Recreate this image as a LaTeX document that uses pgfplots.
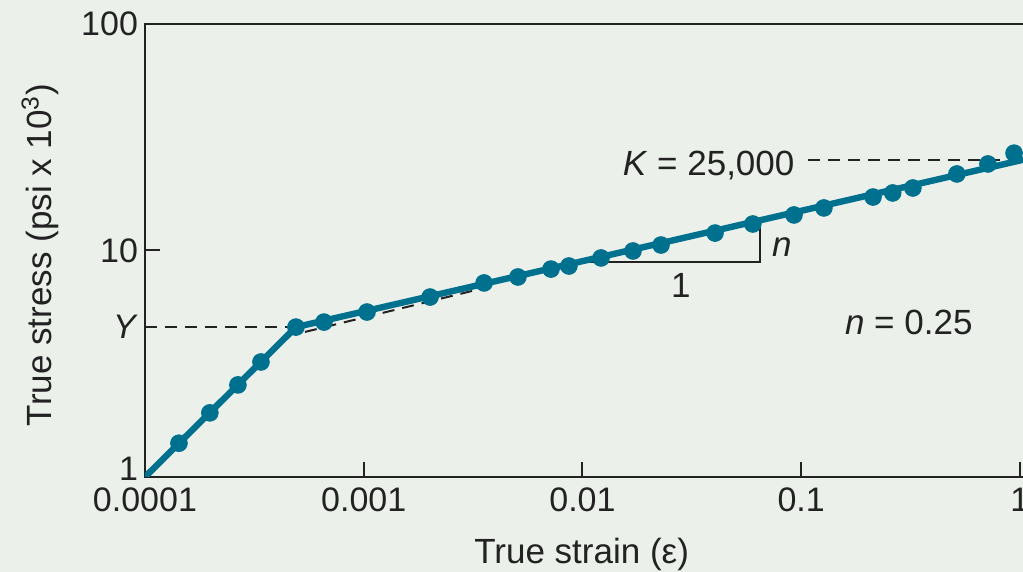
\documentclass[border=0pt]{standalone}
\usepackage{pgfplots}
\pgfplotsset{compat=1.18}
\usepackage{fontspec}
\setmainfont{Liberation Sans}
\definecolor{bg}{HTML}{EBF0EA}
\definecolor{curve}{HTML}{00708F}
\definecolor{ink}{HTML}{222222}
\begin{document}
\begin{tikzpicture}[x=1pt,y=1pt]
\fill[bg] (-72.5,-47.5) rectangle (439,238.5);
\begin{axis}[
  at={(0,0)}, anchor=south west,
  xmode=log, ymode=log,
  scale only axis, width=442pt, height=226.5pt,
  xmin=1e-4, xmax=1.1, ymin=1, ymax=100,
  xtick={1e-4,1e-3,1e-2,1e-1,1},
  xticklabels={0.0001,0.001,0.01,0.1,1},
  ytick={1,10,100}, yticklabels={\raisebox{-2pt}[0pt][0pt]{1},10,100},
  extra y ticks={4.59}, extra y tick labels={\textit{Y}},
  extra y tick style={major tick length=0pt},
  xminorticks=false, yminorticks=false,
  tick align=inside, tick pos=left,
  major tick length=7.5pt,
  axis line style={draw=ink, line width=1pt},
  tick style={draw=ink, line width=1pt},
  tick label style={font=\fontsize{17}{20}\selectfont, text=ink},
  xticklabel style={yshift=-2pt},
  label style={font=\fontsize{17.5}{21}\selectfont, text=ink},
  xlabel={True strain (ε)},
  ylabel={True stress (psi x 10\textsuperscript{3})},
  xlabel style={at={(axis description cs:0.494,-0.19)}, anchor=base},
  ylabel style={at={(axis description cs:-0.1188,0.49)}, anchor=center},
  /pgf/number format/assume math mode=true,
]
% dashed guide lines
\addplot[ink, line width=1pt, dash pattern=on 6pt off 4pt] coordinates {(1e-4,4.59) (4.9e-4,4.59)};
\addplot[ink, line width=1pt, dash pattern=on 6pt off 4pt] coordinates {(5.39e-4,4.37) (3.4e-3,6.76)};
\addplot[ink, line width=1pt, dash pattern=on 6pt off 4pt] coordinates {(0.107,25) (1.1,25)};
% slope triangle
\addplot[ink, line width=0.8pt] coordinates {(0.0105,8.9) (0.0647,8.9) (0.0647,13.6)};
% fitted curve
\addplot[curve, line width=3.2pt] coordinates {(1e-4,1) (4.9e-4,4.59) (1.1,25.5)};
% data points
\addplot[only marks, mark=*, mark size=4.2pt, mark options={draw=curve, fill=curve}] coordinates {
(1.43e-4,1.41) (1.98e-4,1.92) (2.66e-4,2.55) (3.39e-4,3.22) (4.90e-4,4.59)
(6.58e-4,4.83) (1.035e-3,5.35) (2.01e-3,6.23) (3.55e-3,7.19) (5.07e-3,7.64)
(7.18e-3,8.28) (8.67e-3,8.54) (0.01216,9.27) (0.01702,9.95) (0.02286,10.57)
(0.04037,11.94) (0.0601,13.09) (0.0927,14.35) (0.127,15.41) (0.213,17.22)
(0.262,17.95) (0.324,18.88) (0.515,21.77) (0.714,24.1) (0.940,26.9)
};
\node[anchor=base east, inner sep=0pt, font=\fontsize{17.5}{21}\selectfont, text=ink] at (axis cs:0.0935,21.5) {\textit{K} = 25,000};
\node[anchor=base west, inner sep=0pt, font=\fontsize{17.5}{21}\selectfont, text=ink] at (axis cs:0.0734,9.36) {\textit{n}};
\node[anchor=base, inner sep=0pt, font=\fontsize{17.5}{21}\selectfont, text=ink] at (axis cs:0.0282,6.23) {1};
\node[anchor=base west, inner sep=0pt, font=\fontsize{17.5}{21}\selectfont, text=ink] at (axis cs:0.158,4.24) {\textit{n} = 0.25};
\end{axis}
\pgfresetboundingbox
\path[use as bounding box] (-72.5,-47.5) rectangle (439,238.5);
\end{tikzpicture}
\end{document}
